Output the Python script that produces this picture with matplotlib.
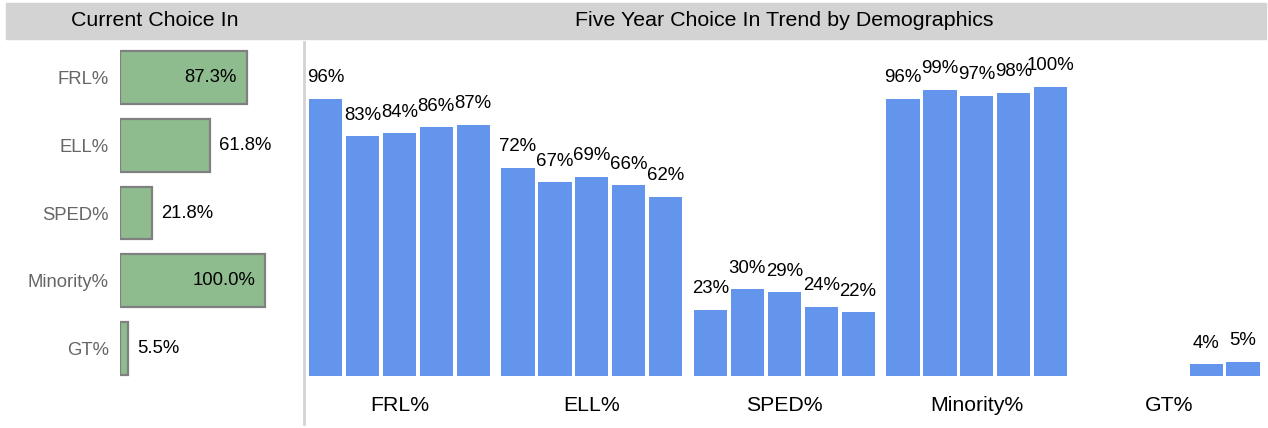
import matplotlib.pyplot as plt
import numpy as np
from matplotlib.patches import Rectangle
from matplotlib.lines import Line2D

plt.rcParams['font.family'] = ['Liberation Sans', 'DejaVu Sans']

# current choice in
categorias = ['FRL%', 'ELL%', 'SPED%', 'Minority%', 'GT%']
actual = [87.3, 61.8, 21.8, 100.0, 5.5]

# five year trend (None = sin dato)
tendencia = {
    'FRL%': [96, 83, 84, 86, 87],
    'ELL%': [72, 67, 69, 66, 62],
    'SPED%': [23, 30, 29, 24, 22],
    'Minority%': [96, 99, 97, 98, 100],
    'GT%': [None, None, None, 4, 5],
}

W, H = 1268, 428
fig = plt.figure(figsize=(W / 100, H / 100), dpi=100)

def px_axes(x0, y0, x1, y1):
    # pixel box (top-left origin) -> figure axes
    return fig.add_axes([x0 / W, 1 - y1 / H, (x1 - x0) / W, (y1 - y0) / H])

# header band
fig.patches.append(Rectangle((6 / W, 1 - 39 / H), 1260 / W, 36 / H,
                             transform=fig.transFigure, color='#d3d3d3', zorder=0))
fig.text(155 / W, 1 - 21 / H, 'Current Choice In', ha='center', va='center', fontsize=15.4)
fig.text(784 / W, 1 - 21 / H, 'Five Year Choice In Trend by Demographics',
         ha='center', va='center', fontsize=15.4)
fig.lines.append(Line2D([303.5 / W, 303.5 / W], [1 - 42 / H, 1 - 424 / H],
                        transform=fig.transFigure, color='#d3d3d3', lw=2))

# ---- left panel
ax1 = px_axes(120, 44, 290, 382)
y = np.arange(len(categorias))
ax1.barh(y, actual, height=0.78, color='#8fbc8f', edgecolor='#808080', linewidth=1.6)
ax1.set_xlim(0, 100 * 170 / 145)
ax1.set_ylim(len(categorias) - 0.5, -0.5)
ax1.set_yticks(y)
ax1.set_yticklabels(categorias, color='#666666', fontsize=13.3)
ax1.tick_params(axis='y', length=0, pad=8)
ax1.set_xticks([])
for s in ax1.spines.values():
    s.set_visible(False)
for i, v in enumerate(actual):
    if v > 80:
        ax1.annotate(f'{v:.1f}%', (v, i), xytext=(-7, 0), textcoords='offset points',
                     ha='right', va='center', fontsize=13.3)
    else:
        ax1.annotate(f'{v:.1f}%', (v, i), xytext=(7, 0), textcoords='offset points',
                     ha='left', va='center', fontsize=13.3)

# ---- right panel
ax2 = px_axes(306, 44, 1266, 376)
paso = 192.5 / 36.9
for g, (nombre, vals) in enumerate(tendencia.items()):
    for i, v in enumerate(vals):
        if v is None:
            continue
        x = g * paso + i
        ax2.bar(x, v, width=0.9, color='#6495ed')
        ax2.annotate(f'{v}%', (x, v), xytext=(0, 9), textcoords='offset points',
                     ha='center', va='bottom', fontsize=13.4)
    ax2.annotate(nombre, (g * paso + 2, 0), xycoords=('data', 'axes fraction'),
                 xytext=(0, -21), textcoords='offset points',
                 ha='center', va='center', fontsize=15.3)
ax2.set_xlim(-0.53, (1266 - 325.5) / 36.9)
ax2.set_ylim(0, (376 - 44) / 2.89)
ax2.set_xticks([])
ax2.set_yticks([])
for s in ax2.spines.values():
    s.set_visible(False)

fig.savefig('out.png', dpi=100)
